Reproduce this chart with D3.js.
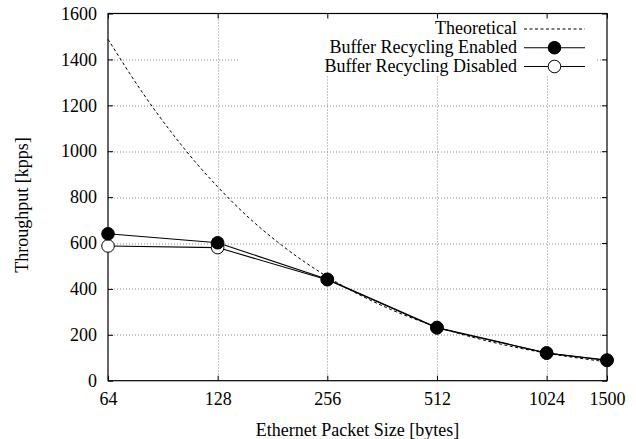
<!DOCTYPE html>
<html>
<head>
<meta charset="utf-8">
<script src="https://cdn.jsdelivr.net/npm/d3@7"></script>
<style>
  body { margin: 0; background: #fff; }
  svg text { font-family: "Liberation Serif", serif; }
</style>
</head>
<body>
<div id="chart"></div>
<script>
// packet sizes (bytes) and measured throughput (kpps)
var sizes = [64, 128, 256, 512, 1024, 1500]
var enabled = [640, 601, 442, 232, 121, 90]
var disabled = [587, 580, 440, 230, 120, 88]

// theoretical curve
var theoSizes = [64, 80, 96, 112, 128, 160, 192, 256, 384, 512, 768, 1024, 1500]
var theoretical = [1488, 1250, 1078, 947, 845, 694, 590, 453, 309, 235, 159, 120, 82]

var yTicks = [0, 200, 400, 600, 800, 1000, 1200, 1400, 1600]
var legendLabels = ["Theoretical", "Buffer Recycling Enabled", "Buffer Recycling Disabled"]

var serif = "Liberation Serif"
var fontSize = 18

var width = 636, height = 439
var margin = {top: 13.5, right: 29, bottom: 58.3, left: 108}
var w = width - margin.left - margin.right
var h = height - margin.top - margin.bottom

var svg = d3.select("#chart").append("svg")
	.attr("width", width)
	.attr("height", height)

var g = svg.append("g").attr("transform", "translate(" + margin.left + "," + margin.top + ")")

var x = d3.scaleLog().base(2).domain([64, 1500]).range([0, w])
var y = d3.scaleLinear().domain([0, 1600]).range([h, 0])

// grid
var grid = g.append("g").attr("class", "grid")
	.attr("stroke", "#8a8a8a")
	.attr("stroke-width", 1)
	.attr("stroke-dasharray", "1,2")

grid.selectAll(".gy")
	.data(yTicks.slice(1, -1))
	.enter().append("line")
	.attr("x1", 0).attr("x2", w)
	.attr("y1", function(d) { return Math.round(y(d)) + 0.5 })
	.attr("y2", function(d) { return Math.round(y(d)) + 0.5 })

grid.selectAll(".gx")
	.data(sizes.slice(1, -1))
	.enter().append("line")
	.attr("y1", 0).attr("y2", h)
	.attr("x1", function(d) { return Math.round(x(d)) + 0.5 })
	.attr("x2", function(d) { return Math.round(x(d)) + 0.5 })

// legend background hides the grid behind it
g.append("rect")
	.attr("x", 131)
	.attr("y", 0.5)
	.attr("width", 358)
	.attr("height", 61)
	.attr("fill", "#fff")

// axes, ticks pointing inward
var xAxis = d3.axisBottom(x).tickValues(sizes).tickFormat(d3.format("d")).tickSizeInner(-5).tickSizeOuter(0).tickPadding(11.5)
var yAxis = d3.axisLeft(y).tickValues(yTicks).tickFormat(d3.format("d")).tickSizeInner(-5).tickSizeOuter(0).tickPadding(11)

var xa = g.append("g").attr("transform", "translate(0," + h + ")").call(xAxis)
var ya = g.append("g").call(yAxis)
g.append("g").call(d3.axisTop(x).tickValues(sizes).tickFormat("").tickSizeInner(-5).tickSizeOuter(0))
g.append("g").attr("transform", "translate(" + w + ",0)")
	.call(d3.axisRight(y).tickValues(yTicks).tickFormat("").tickSizeInner(-5).tickSizeOuter(0))

xa.attr("font-family", serif).attr("font-size", fontSize)
ya.attr("font-family", serif).attr("font-size", fontSize)

g.selectAll(".domain").remove()
g.selectAll(".tick line").attr("stroke", "#000")
g.selectAll(".tick text").attr("fill", "#000")

g.append("rect")
	.attr("width", w).attr("height", h)
	.attr("fill", "none")
	.attr("stroke", "#000")
	.attr("stroke-width", 1.2)

// theoretical
var theoData = theoSizes.map(function(d, i) { return [d, theoretical[i]] })
g.append("path")
	.datum(theoData)
	.attr("fill", "none")
	.attr("stroke", "#000")
	.attr("stroke-width", 1)
	.attr("stroke-dasharray", "3,2.5")
	.attr("d", d3.line().curve(d3.curveMonotoneX)
		.x(function(d) { return x(d[0]) })
		.y(function(d) { return y(d[1]) }))

var line = d3.line()
	.x(function(d) { return x(d[0]) })
	.y(function(d) { return y(d[1]) })

var series = [
	{ vals: disabled, fill: "#fff" },
	{ vals: enabled, fill: "#000" }
]

series.forEach(function(s) {
	var pts = sizes.map(function(d, i) { return [d, s.vals[i]] })
	g.append("path")
		.datum(pts)
		.attr("fill", "none")
		.attr("stroke", "#000")
		.attr("stroke-width", 1.1)
		.attr("d", line)
	g.selectAll(null)
		.data(pts)
		.enter().append("circle")
		.attr("cx", function(d) { return x(d[0]) })
		.attr("cy", function(d) { return y(d[1]) })
		.attr("r", 6.3)
		.attr("fill", s.fill)
		.attr("stroke", "#000")
		.attr("stroke-width", 1)
})

// legend
var legend = svg.append("g").attr("font-family", serif).attr("font-size", fontSize)
var rowY = [29, 47.7, 66.5]
legendLabels.forEach(function(lab, i) {
	legend.append("text")
		.attr("x", 517)
		.attr("y", rowY[i])
		.attr("dy", "0.3em")
		.attr("text-anchor", "end")
		.text(lab)
	legend.append("line")
		.attr("x1", 524).attr("x2", 585)
		.attr("y1", rowY[i]).attr("y2", rowY[i])
		.attr("stroke", "#000")
		.attr("stroke-width", i == 0 ? 1 : 1.1)
		.attr("stroke-dasharray", i == 0 ? "3,2.5" : null)
	if (i > 0) {
		legend.append("circle")
			.attr("cx", 554.5).attr("cy", rowY[i])
			.attr("r", 6.3)
			.attr("fill", i == 1 ? "#000" : "#fff")
			.attr("stroke", "#000")
	}
})

// axis titles
svg.append("text")
	.attr("x", margin.left + w / 2)
	.attr("y", 436)
	.attr("text-anchor", "middle")
	.attr("font-family", serif)
	.attr("font-size", fontSize)
	.text("Ethernet Packet Size [bytes]")

svg.append("text")
	.attr("transform", "translate(28,205) rotate(-90)")
	.attr("text-anchor", "middle")
	.attr("font-family", serif)
	.attr("font-size", fontSize)
	.text("Throughput [kpps]")
</script>
</body>
</html>
